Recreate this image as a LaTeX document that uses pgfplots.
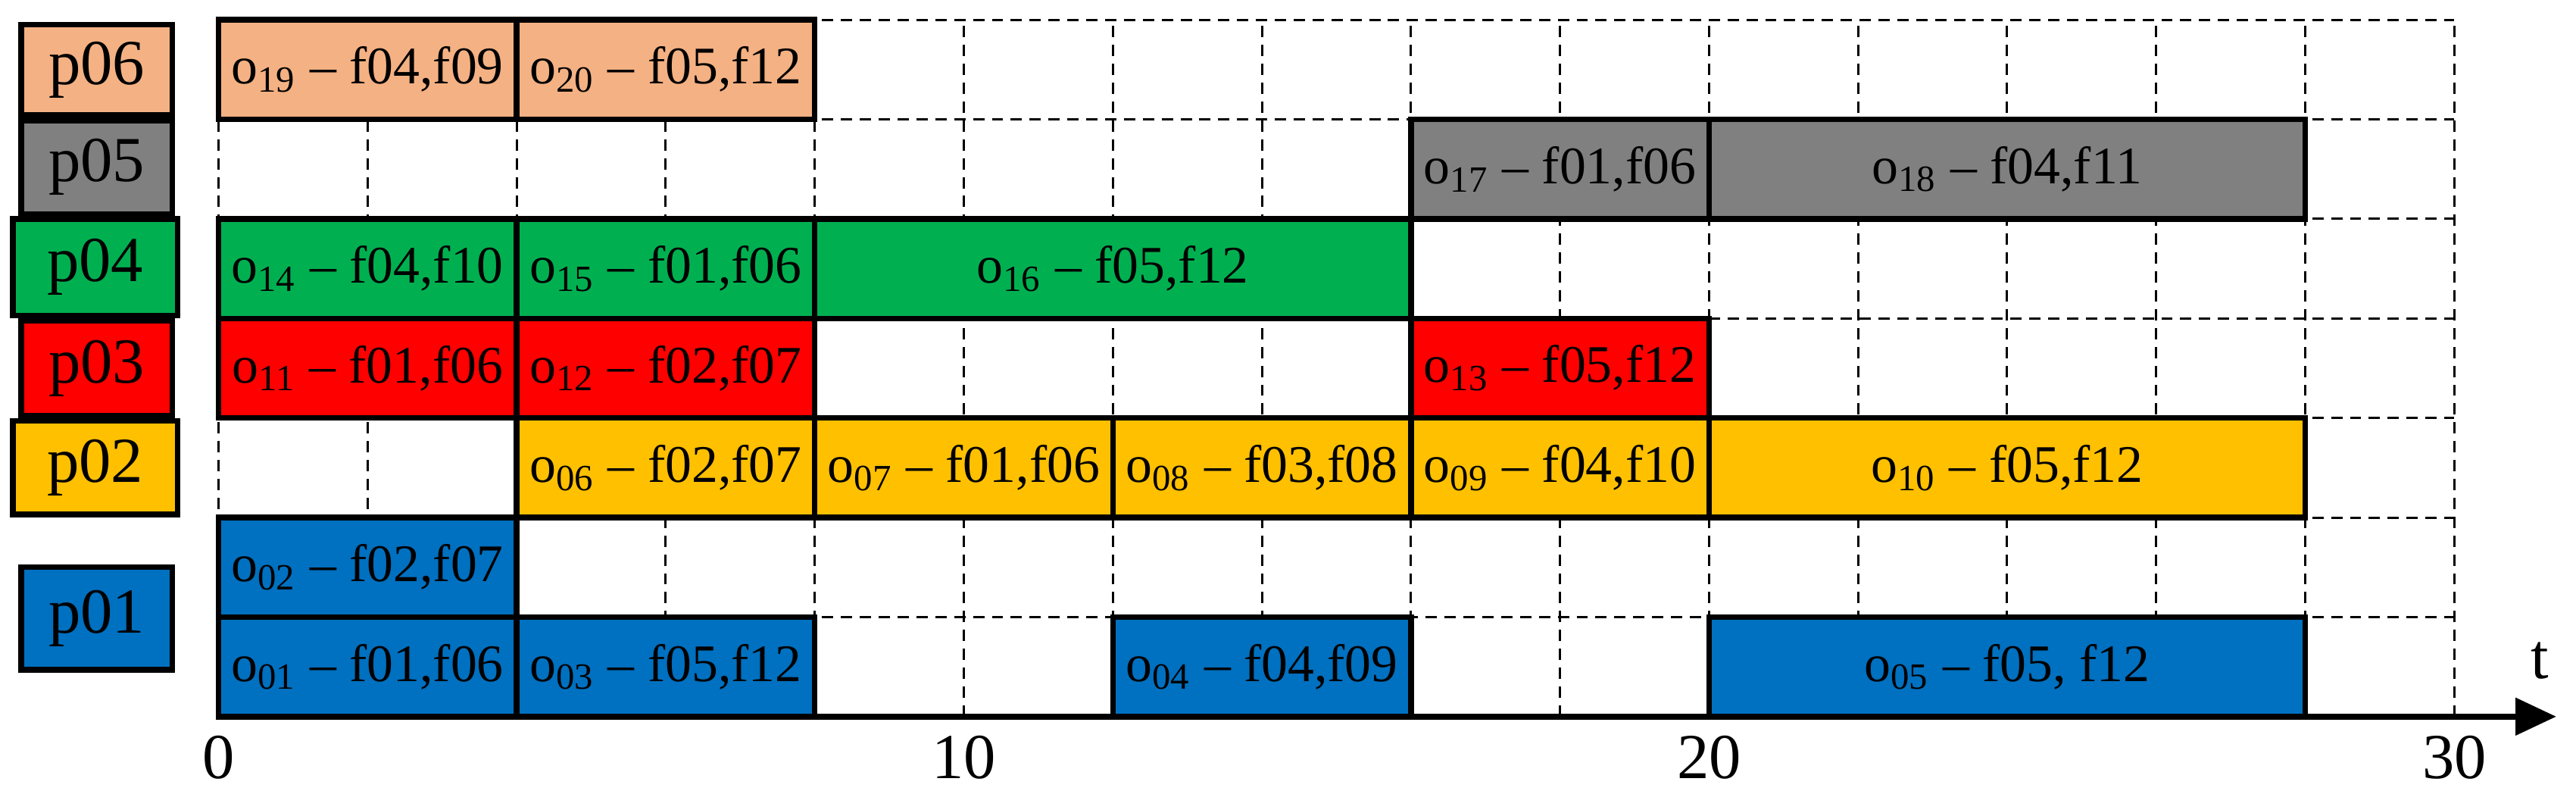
\documentclass[border=0pt]{standalone}
\usepackage{fontspec}
\setmainfont{Liberation Serif}
\usepackage{pgfplots}
\pgfplotsset{compat=1.18}
\usetikzlibrary{arrows.meta}
\definecolor{cP1}{HTML}{0070C0}
\definecolor{cP2}{HTML}{FFC000}
\definecolor{cP3}{HTML}{FF0000}
\definecolor{cP4}{HTML}{00B050}
\definecolor{cP5}{HTML}{808080}
\definecolor{cP6}{HTML}{F4B183}
\newcommand{\barfont}{\fontsize{14}{14}\selectfont}
\newcommand{\pfont}{\fontsize{17}{17}\selectfont}
% x1, x2, y1, y2, colour, label
\newcommand{\gbar}[6]{%
  \addplot[fill=#5, draw=black, line width=1.5pt] coordinates {(#1,#3) (#2,#3) (#2,#4) (#1,#4)} --cycle;
  \node[font=\barfont, inner sep=0pt] at (axis cs:{(#1+#2)/2},{(#3+#4)/2}) {#6};%
}
\newcommand{\pbox}[6]{%
  \draw[fill=#5, line width=1.5pt] (axis cs:#1,#3) rectangle (axis cs:#2,#4);
  \node[font=\pfont, inner sep=0pt] at (axis cs:{(#1+#2)/2},{(#3+#4)/2}) {#6};%
}
\begin{document}
\begin{tikzpicture}
\begin{axis}[
  scale only axis,
  width=20.83cm, height=6.49cm,
  xmin=0, xmax=30, ymin=0, ymax=7,
  clip=false,
  separate axis lines,
  axis x line=bottom,
  axis y line=left,
  y axis line style={draw=none},
  x axis line style={line width=1.6pt, -{Triangle[length=0.38cm,width=0.34cm]}, shorten >=-0.95cm},
  xtick={0,10,20,30},
  xticklabels={0,10,20,30},
  minor xtick={2,4,6,8,12,14,16,18,22,24,26,28},
  ytick={0,1,2,3,4,5,6,7},
  yticklabels={},
  major tick length=0pt,
  minor tick length=0pt,
  xmajorgrids, xminorgrids, ymajorgrids,
  major grid style={black, line width=0.6pt, dash pattern=on 3pt off 2pt},
  minor grid style={black, line width=0.6pt, dash pattern=on 3pt off 2pt},
  xticklabel style={font=\pfont, inner sep=0pt, yshift=-4.8pt},
]
% bounding frame of the picture
\path (axis cs:0,0) ++(-2.036cm,-0.689cm) rectangle ++(24cm,7.363cm);

% p01 (two rows)
\gbar{0}{4}{0}{1}{cP1}{o\textsubscript{01} -- f01,f06}
\gbar{4}{8}{0}{1}{cP1}{o\textsubscript{03} -- f05,f12}
\gbar{12}{16}{0}{1}{cP1}{o\textsubscript{04} -- f04,f09}
\gbar{20}{28}{0}{1}{cP1}{o\textsubscript{05} -- f05, f12}
\gbar{0}{4}{1}{2}{cP1}{o\textsubscript{02} -- f02,f07}
% p02
\gbar{4}{8}{2}{3}{cP2}{o\textsubscript{06} -- f02,f07}
\gbar{8}{12}{2}{3}{cP2}{o\textsubscript{07} -- f01,f06}
\gbar{12}{16}{2}{3}{cP2}{o\textsubscript{08} -- f03,f08}
\gbar{16}{20}{2}{3}{cP2}{o\textsubscript{09} -- f04,f10}
\gbar{20}{28}{2}{3}{cP2}{o\textsubscript{10} -- f05,f12}
% p03
\gbar{0}{4}{3}{4}{cP3}{o\textsubscript{11} -- f01,f06}
\gbar{4}{8}{3}{4}{cP3}{o\textsubscript{12} -- f02,f07}
\gbar{16}{20}{3}{4}{cP3}{o\textsubscript{13} -- f05,f12}
% p04
\gbar{0}{4}{4}{5}{cP4}{o\textsubscript{14} -- f04,f10}
\gbar{4}{8}{4}{5}{cP4}{o\textsubscript{15} -- f01,f06}
\gbar{8}{16}{4}{5}{cP4}{o\textsubscript{16} -- f05,f12}
% p05
\gbar{16}{20}{5}{6}{cP5}{o\textsubscript{17} -- f01,f06}
\gbar{20}{28}{5}{6}{cP5}{o\textsubscript{18} -- f04,f11}
% p06
\gbar{0}{4}{6}{7}{cP6}{o\textsubscript{19} -- f04,f09}
\gbar{4}{8}{6}{7}{cP6}{o\textsubscript{20} -- f05,f12}

% row labels
\pbox{-2.65}{-0.62}{6.04}{6.95}{cP6}{p06}
\pbox{-2.65}{-0.62}{5.05}{5.99}{cP5}{p05}
\pbox{-2.76}{-0.55}{4.03}{5.00}{cP4}{p04}
\pbox{-2.65}{-0.62}{3.02}{3.98}{cP3}{p03}
\pbox{-2.76}{-0.55}{2.03}{2.97}{cP2}{p02}
\pbox{-2.65}{-0.62}{0.47}{1.50}{cP1}{p01}

\node[font=\pfont, inner sep=0pt] at (axis cs:31.15,0.56) {t};
\end{axis}
\end{tikzpicture}
\end{document}
